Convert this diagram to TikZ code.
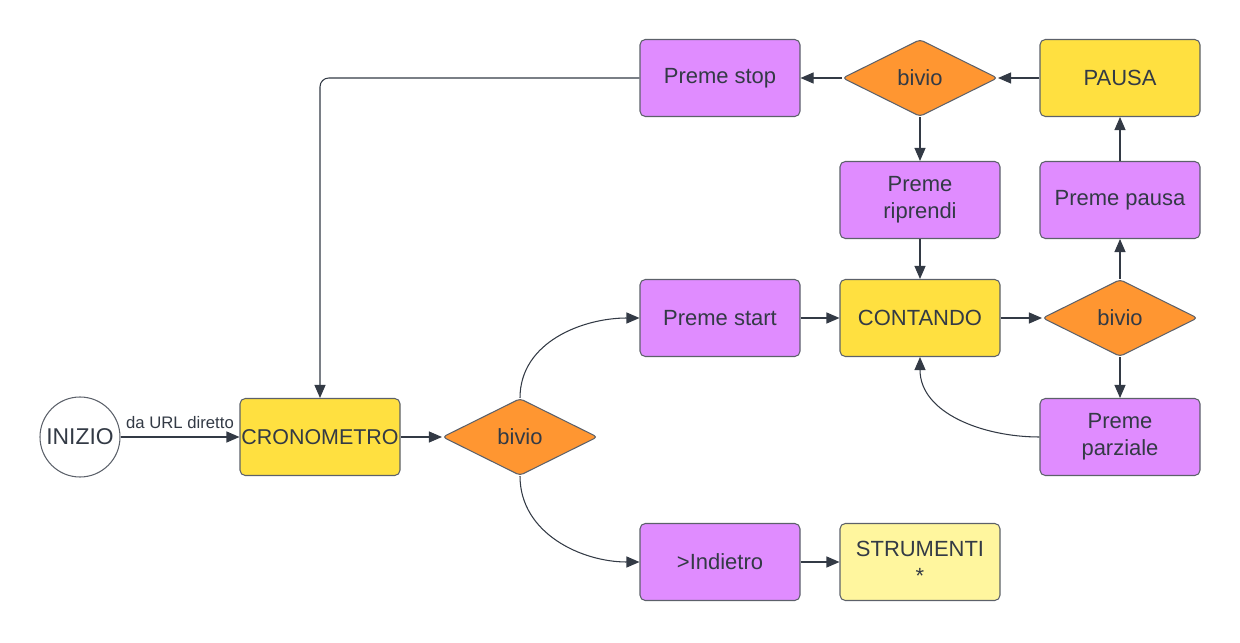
\documentclass[tikz,border=0pt]{standalone}
\usepackage{fontspec}
\setmainfont{Liberation Sans}
\usepackage{xcolor}
\usetikzlibrary{shapes.geometric, arrows.meta}

\definecolor{lila}{HTML}{E08CFF}
\definecolor{giallo}{HTML}{FFE040}
\definecolor{arancio}{HTML}{FF9631}
\definecolor{chiaro}{HTML}{FFF69E}
\definecolor{testo}{HTML}{333A45}

\begin{document}
\begin{tikzpicture}[
        box/.style={draw=testo!80, line width=0.6pt, rounded corners=3pt, minimum width=3.2cm, minimum height=1.54cm, align=center, text=testo, font=\fontsize{12.5}{15.5}\selectfont},
        bivio/.style={diamond, draw=testo!80, line width=0.6pt, rounded corners=2pt, fill=arancio, minimum width=3.1cm, minimum height=1.54cm, inner sep=0pt, text=testo, font=\fontsize{12.5}{15.5}\selectfont},
        freccia/.style={draw=testo, line width=0.6pt, -{Triangle[length=2.6mm, width=2.2mm]}}
    ]
        \useasboundingbox (0, 0) rectangle (24.8, 12.84);

        \node[circle, draw=testo!80, line width=0.6pt, minimum size=1.6cm, inner sep=0pt, text=testo, font=\fontsize{13}{15}\selectfont] (inizio) at (1.6, 4.1) {INIZIO};
        \node[box, fill=giallo, inner xsep=0pt, font=\fontsize{12.2}{15}\selectfont] (crono) at (6.4, 4.1) {CRONOMETRO};
        \node[bivio] (b1) at (10.4, 4.1) {bivio};

        \draw[freccia] (inizio) -- (crono) node[midway, above, text=testo, font=\fontsize{9.5}{11}\selectfont, yshift=1pt] {da URL diretto};
        \draw[freccia] (crono) -- (b1);

        %%%

        \node[box, fill=lila] (start) at (14.4, 6.48) {Preme start};
        \node[box, fill=lila] (indietro) at (14.4, 1.6) {>Indietro};
        \node[box, fill=chiaro] (strumenti) at (18.4, 1.6) {STRUMENTI\\*};

        \draw[freccia] (b1.north) to[out=90, in=180] (start.west);
        \draw[freccia] (b1.south) to[out=-90, in=180] (indietro.west);
        \draw[freccia] (indietro) -- (strumenti);

        %%%

        \node[box, fill=giallo] (contando) at (18.4, 6.48) {CONTANDO};
        \node[bivio] (b2) at (22.4, 6.48) {bivio};
        \node[box, fill=lila] (parziale) at (22.4, 4.1) {Preme\\parziale};
        \node[box, fill=lila] (pausabtn) at (22.4, 8.84) {Preme pausa};
        \node[box, fill=giallo] (pausa) at (22.4, 11.28) {PAUSA};
        \node[bivio] (b3) at (18.4, 11.28) {bivio};
        \node[box, fill=lila] (riprendi) at (18.4, 8.84) {Preme\\riprendi};
        \node[box, fill=lila] (stop) at (14.4, 11.28) {Preme stop};

        \draw[freccia] (start) -- (contando);
        \draw[freccia] (contando) -- (b2);
        \draw[freccia] (b2) -- (parziale);
        \draw[freccia] (parziale.west) to[out=180, in=-90] (contando.south);
        \draw[freccia] (b2) -- (pausabtn);
        \draw[freccia] (pausabtn) -- (pausa);
        \draw[freccia] (pausa) -- (b3);
        \draw[freccia] (b3) -- (stop);
        \draw[freccia] (b3) -- (riprendi);
        \draw[freccia] (riprendi) -- (contando);
        \draw[freccia, rounded corners=5pt] (stop.west) -| (crono.north);
    \end{tikzpicture}
\end{document}
